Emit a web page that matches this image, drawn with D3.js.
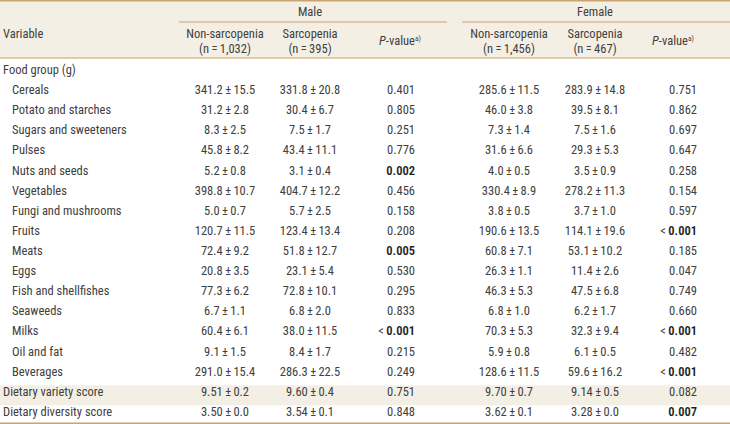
<!DOCTYPE html>
<html><head><meta charset="utf-8">
<script src="https://cdn.jsdelivr.net/npm/d3@7"></script>
<style>
html,body{margin:0;padding:0;background:#fff;}
svg text{font-family:"Liberation Sans Narrow","Roboto Condensed","Arial Narrow",sans-serif;font-size:12.5px;fill:#404040;}
</style></head>
<body><svg id="c" width="730" height="424"></svg>
<script>
const groups = ["Male", "Female"];
const subHeads = [["Non-sarcopenia", "(n=1,032)"], ["Sarcopenia", "(n=395)"], ["P-value", ""], ["Non-sarcopenia", "(n=1,456)"], ["Sarcopenia", "(n=467)"], ["P-value", ""]];
const variables = ["Food group (g)", "Cereals", "Potato and starches", "Sugars and sweeteners", "Pulses", "Nuts and seeds", "Vegetables", "Fungi and mushrooms", "Fruits", "Meats", "Eggs", "Fish and shellfishes", "Seaweeds", "Milks", "Oil and fat", "Beverages", "Dietary variety score", "Dietary diversity score"];
const indent = [0,1,1,1,1,1,1,1,1,1,1,1,1,1,1,1,0,0];
const maleNon = ["", "341.2±15.5", "31.2±2.8", "8.3±2.5", "45.8±8.2", "5.2±0.8", "398.8±10.7", "5.0±0.7", "120.7±11.5", "72.4±9.2", "20.8±3.5", "77.3±6.2", "6.7±1.1", "60.4±6.1", "9.1±1.5", "291.0±15.4", "9.51±0.2", "3.50±0.0"];
const maleSar = ["", "331.8±20.8", "30.4±6.7", "7.5±1.7", "43.4±11.1", "3.1±0.4", "404.7±12.2", "5.7±2.5", "123.4±13.4", "51.8±12.7", "23.1±5.4", "72.8±10.1", "6.8±2.0", "38.0±11.5", "8.4±1.7", "286.3±22.5", "9.60±0.4", "3.54±0.1"];
const maleP = ["", "0.401", "0.805", "0.251", "0.776", "0.002", "0.456", "0.158", "0.208", "0.005", "0.530", "0.295", "0.833", "<0.001", "0.215", "0.249", "0.751", "0.848"];
const femNon = ["", "285.6±11.5", "46.0±3.8", "7.3±1.4", "31.6±6.6", "4.0±0.5", "330.4±8.9", "3.8±0.5", "190.6±13.5", "60.8±7.1", "26.3±1.1", "46.3±5.3", "6.8±1.0", "70.3±5.3", "5.9±0.8", "128.6±11.5", "9.70±0.7", "3.62±0.1"];
const femSar = ["", "283.9±14.8", "39.5±8.1", "7.5±1.6", "29.3±5.3", "3.5±0.9", "278.2±11.3", "3.7±1.0", "114.1±19.6", "53.1±10.2", "11.4±2.6", "47.5±6.8", "6.2±1.7", "32.3±9.4", "6.1±0.5", "59.6±16.2", "9.14±0.5", "3.28±0.0"];
const femP = ["", "0.751", "0.862", "0.697", "0.647", "0.258", "0.154", "0.597", "<0.001", "0.185", "0.047", "0.749", "0.660", "<0.001", "0.482", "<0.001", "0.082", "0.007"];
const boldMaleRows = [5, 9, 13];
const boldFemRows = [8, 13, 15, 17];
const shadedRows = [16];

const svg = d3.select("#c");
const W = 730, H = 424;
const cream = "#f4efe4", rule = "#c9a470";
const TS = "\u2009";

// column centres
const colX = [225, 310, 400, 509, 595, 673];
const pRight = {2: 415, 5: 697};

const y = d3.scaleBand().domain(d3.range(variables.length)).range([61, 423]).paddingInner(0);

// header background
svg.append("rect").attr("x", 0).attr("y", 0).attr("width", W).attr("height", 58.5).attr("fill", cream);
// shaded rows
svg.selectAll("rect.sh").data(shadedRows).join("rect").attr("class", "sh")
  .attr("x", 0).attr("width", W).attr("y", d => y(d) + 2.5).attr("height", y.bandwidth()).attr("fill", cream);

// rules
svg.append("rect").attr("x", 0).attr("y", 0).attr("width", W).attr("height", 1.5).attr("fill", rule);
svg.append("rect").attr("x", 179).attr("y", 21.5).attr("width", 447 - 179).attr("height", 1).attr("fill", rule);
svg.append("rect").attr("x", 462).attr("y", 21.5).attr("width", W - 462).attr("height", 1).attr("fill", rule);
svg.append("rect").attr("x", 0).attr("y", 57.5).attr("width", W).attr("height", 1).attr("fill", rule);
svg.append("rect").attr("x", 0).attr("y", 422.5).attr("width", W).attr("height", 1.5).attr("fill", rule);

// header texts
svg.append("text").attr("x", 3).attr("y", 38).text("Variable");
svg.selectAll("text.grp").data(groups).join("text").attr("class", "grp")
  .attr("x", (d, i) => i === 0 ? 310 : 595).attr("y", 16).attr("text-anchor", "middle").text(d => d);

subHeads.forEach((h, i) => {
  if (h[0] === "P-value") {
    const t = svg.append("text").attr("x", colX[i]).attr("y", 45).attr("text-anchor", "middle");
    t.append("tspan").attr("font-style", "italic").text("P");
    t.append("tspan").text("-value");
    t.append("tspan").attr("font-size", "7.5px").attr("dy", -4).text("a)");
  } else {
    svg.append("text").attr("x", colX[i]).attr("y", 37.5).attr("text-anchor", "middle").text(h[0]);
    svg.append("text").attr("x", colX[i]).attr("y", 52.5).attr("text-anchor", "middle").text(h[1].replace("=", TS + "=" + TS));
  }
});

// body
const base = i => y(i) + 13;
svg.selectAll("text.var").data(variables).join("text").attr("class", "var")
  .attr("x", (d, i) => indent[i] ? 12 : 3).attr("y", (d, i) => base(i)).text(d => d);

const cols = [maleNon, maleSar, maleP, femNon, femSar, femP];
const isBold = (c, i) => (c === 2 && boldMaleRows.includes(i)) || (c === 5 && boldFemRows.includes(i));
cols.forEach((arr, c) => {
  svg.selectAll("text.c" + c).data(arr).join("text").attr("class", "c" + c)
    .attr("x", pRight[c] !== undefined ? pRight[c] : colX[c])
    .attr("y", (d, i) => base(i))
    .attr("text-anchor", pRight[c] !== undefined ? "end" : "middle")
    .each(function(d, i) {
      const t = d3.select(this);
      if (d.startsWith("<")) {
        t.append("tspan").text("<" + TS);
        t.append("tspan").attr("font-weight", isBold(c, i) ? 600 : null).style("fill", isBold(c, i) ? "#1e1e1e" : null).text(d.slice(1));
      } else {
        t.attr("font-weight", isBold(c, i) ? 600 : null).style("fill", isBold(c, i) ? "#1e1e1e" : null)
          .text(d.replace("±", TS + "±" + TS));
      }
    });
});
</script></body></html>
